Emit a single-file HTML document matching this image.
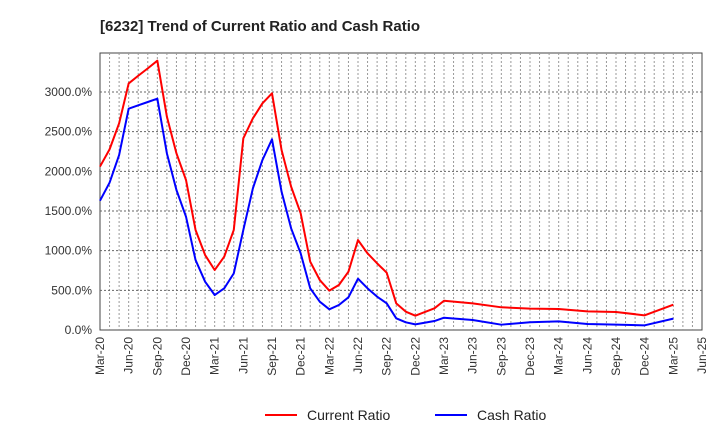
<!DOCTYPE html>
<html><head><meta charset="utf-8"><style>
body{margin:0;background:#fff;font-family:"Liberation Sans",sans-serif}
svg{display:block}
</style></head><body>
<svg id="chart" width="720" height="440">
<text x="100" y="31" font-size="15" font-weight="bold" fill="#222">[6232]  Trend of Current Ratio and Cash Ratio</text>
<rect x="100" y="53" width="602" height="277" fill="#fff" stroke="#444"/>
<g id="grid"></g><g id="yticks"></g><g id="xticks"></g><g id="series"></g>
<g>
<line x1="265" y1="415" x2="297" y2="415" stroke="#f00" stroke-width="2"/>
<text x="307" y="420" font-size="14" fill="#222">Current Ratio</text>
<line x1="435" y1="415" x2="467" y2="415" stroke="#00f" stroke-width="2"/>
<text x="477" y="420" font-size="14" fill="#222">Cash Ratio</text>
</g>
</svg>
<script>
const monthIdx=[0,1,2,3,4,5,6,7,8,9,10,11,12,13,14,15,16,17,18,19,20,21,22,23,24,25,26,27,28,29,30,31,32,33,35,36,39,42,45,48,51,54,57,60];
const currentRatio=[2060,2277,2605,3108,3205,3298,3395,2689,2227,1891,1261,945,756,924,1261,2416,2668,2857,2983,2269,1807,1471,861,630,496,567,735,1134,966,840,723,336,231,180,273,369,336,286,269,265,235,227,185,319];
const cashRatio=[1630,1857,2205,2790,2832,2874,2916,2227,1765,1428,882,609,441,525,714,1261,1786,2143,2404,1744,1282,966,525,357,261,315,412,647,525,420,336,147,97,71,113,155,126,67,97,109,76,67,59,143];
const yTicks=[0,500,1000,1500,2000,2500,3000];
const xLabels=["Mar-20","Jun-20","Sep-20","Dec-20","Mar-21","Jun-21","Sep-21","Dec-21","Mar-22","Jun-22","Sep-22","Dec-22","Mar-23","Jun-23","Sep-23","Dec-23","Mar-24","Jun-24","Sep-24","Dec-24","Mar-25","Jun-25"];
const NS="http://www.w3.org/2000/svg";
const x0=100,x1=702,y0=330,totalMonths=63;
const xs=m=>x0+m*(x1-x0)/totalMonths;
const ys=v=>y0-v*(238/3000);
function mk(t,a,p){const e=document.createElementNS(NS,t);for(const k in a)e.setAttribute(k,a[k]);p.appendChild(e);return e;}
const grid=document.getElementById('grid'),yt=document.getElementById('yticks'),xt=document.getElementById('xticks'),ser=document.getElementById('series');
for(let m=1;m<totalMonths;m++){const l=mk('line',{x1:xs(m),x2:xs(m),y1:53,y2:330,stroke:'#999','stroke-dasharray':'2,2','stroke-width':1},grid);

}
yTicks.forEach(v=>{if(v>0){const l=mk('line',{x1:100,x2:702,y1:ys(v),y2:ys(v),stroke:'#666','stroke-dasharray':'2,2'},grid);

}
const t=mk('text',{x:92,y:ys(v)+4,'text-anchor':'end','font-size':12,fill:'#333'},yt);t.textContent=v.toFixed(1)+'%';

});
xLabels.forEach((s,i)=>{const x=xs(i*3);const t=mk('text',{x:0,y:0,transform:`translate(${x+4},337) rotate(-90)`,'text-anchor':'end','font-size':12,fill:'#333'},xt);t.textContent=s;

});
function line(vals,color,name){const p=mk('polyline',{points:vals.map((v,i)=>xs(monthIdx[i])+','+ys(v)).join(' '),fill:'none',stroke:color,'stroke-width':2,'stroke-linejoin':'round'},ser);

}
line(currentRatio,'#f00','current-ratio-line');
line(cashRatio,'#00f','cash-ratio-line');
</script>
</body></html>
